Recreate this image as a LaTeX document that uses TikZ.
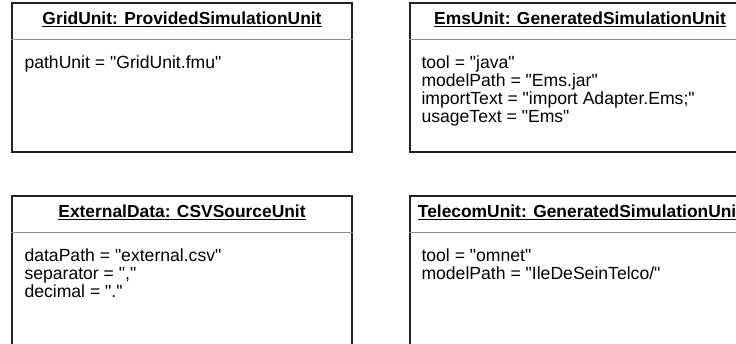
\documentclass[tikz,border=0pt]{standalone}
\usepackage{fontspec}
\newfontfamily\arial{Liberation Sans}
\definecolor{boxline}{HTML}{222222}
\definecolor{sepline}{HTML}{8C8C8C}
\tikzset{
  objbox/.style={draw=boxline, line width=1.4pt, fill=white, rectangle,
    minimum width=340pt, minimum height=149pt, inner sep=0pt},
  objtitle/.style={font=\arial\fontsize{17.4}{18}\selectfont\bfseries, anchor=base, inner sep=0pt},
  objbody/.style={font=\arial\fontsize{17.6}{18.1}\selectfont, anchor=north west, align=left, inner sep=0pt},
  sep/.style={draw=sepline, line width=1pt},
  uline/.style={draw=black, line width=1.2pt}
}
\newcommand{\objsep}[1]{\draw[sep] ([yshift=-37pt]#1.north west) -- ([yshift=-37pt]#1.north east);}
\newcommand{\objuline}[1]{\draw[uline] ([yshift=-2.2pt]#1.base west) -- ([yshift=-2.2pt]#1.base east);}
\begin{document}
\begin{tikzpicture}[x=1pt,y=-1pt]
\useasboundingbox (0,0) rectangle (736,343);
\clip (0,0) rectangle (736,343);
\fill[white] (0,0) rectangle (736,343);

\node[objbox] (grid) at (182,77.5) {};
\node[objbox] (ems) at (580,77.5) {};
\node[objbox] (ext) at (182,270.5) {};
\node[objbox] (tel) at (580,270.5) {};

\objsep{grid}
\objsep{ems}
\objsep{ext}
\objsep{tel}

\node[objtitle] (gridt) at ([yshift=-22pt]grid.north) {GridUnit: ProvidedSimulationUnit};
\node[objtitle] (emst) at ([yshift=-22pt]ems.north) {EmsUnit: GeneratedSimulationUnit};
\node[objtitle] (extt) at ([yshift=-22pt]ext.north) {ExternalData: CSVSourceUnit};
\node[objtitle] (telt) at ([yshift=-22pt]tel.north) {TelecomUnit: GeneratedSimulationUnit};
\objuline{gridt}
\objuline{emst}
\objuline{extt}
\objuline{telt}

\node[objbody] (gridb) at ([xshift=13pt,yshift=-53.4pt]grid.north west) {pathUnit = "GridUnit.fmu"};
\node[objbody] (emsb) at ([xshift=12pt,yshift=-53.4pt]ems.north west) {tool = "java"\\modelPath = "Ems.jar"\\importText = "import Adapter.Ems;"\\usageText = "Ems"};
\node[objbody] (extb) at ([xshift=13pt,yshift=-53.4pt]ext.north west) {dataPath = "external.csv"\\separator = ","\\decimal = "."};
\node[objbody] (telb) at ([xshift=12pt,yshift=-53.4pt]tel.north west) {tool = "omnet"\\modelPath = "IleDeSeinTelco/"};
\end{tikzpicture}
\end{document}
